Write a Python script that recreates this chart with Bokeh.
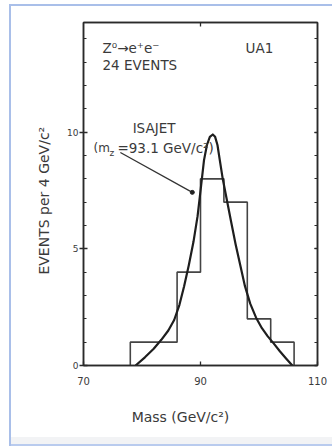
from bokeh.plotting import figure
from bokeh.models import LinearAxis, SingleIntervalTicker, FixedTicker, Label, Range1d
from bokeh.embed import file_html
from bokeh.resources import INLINE

# ---- data ----
bin_edges = [78, 82, 86, 90, 94, 98, 102, 106]
bin_counts = [1, 1, 4, 8, 7, 2, 1]

curve_x = [78.9, 80.5, 82.0, 83.3, 84.5, 85.5, 86.4, 87.2, 88.0, 88.8, 89.5,
           90.1, 90.6, 91.1, 91.6, 92.1, 92.5, 92.9, 93.3, 93.8, 94.5, 95.2,
           96.0, 96.8, 97.6, 98.5, 99.5, 100.5, 101.5, 102.5, 103.6, 104.7, 105.7]
curve_y = [0.0, 0.35, 0.72, 1.1, 1.5, 1.95, 2.6, 3.4, 4.3, 5.3, 6.4,
           7.7, 8.8, 9.45, 9.8, 9.9, 9.8, 9.45, 8.8, 8.0, 7.1, 6.2,
           5.2, 4.3, 3.4, 2.65, 2.05, 1.6, 1.25, 0.95, 0.6, 0.28, 0.0]

arrow_x = [76.3, 88.6]
arrow_y = [9.13, 7.42]

x_ticks = [70, 90, 110]
y_major = 5

C = "#2a2a2a"
TC = "#3a3a3a"
FONT = "DejaVu Sans"

# step outline built from the histogram data
step_x = [bin_edges[0]]
step_y = [0]
for i, c in enumerate(bin_counts):
    step_x += [bin_edges[i], bin_edges[i + 1]]
    step_y += [c, c]
step_x.append(bin_edges[-1])
step_y.append(0)

p = figure(width=332, height=447, x_range=Range1d(70, 110), y_range=Range1d(0, 14.7),
           x_axis_type=None, y_axis_type=None, output_backend="svg",
           toolbar_location=None, min_border_left=83, min_border_right=15,
           min_border_top=22, min_border_bottom=82)
p.background_fill_color = "white"
p.border_fill_color = None
p.outline_line_color = C
p.outline_line_width = 1.5
p.styles = {
    "background-color": "white",
    "box-shadow": ("inset 9px 0 0 0 #ffffff, inset 0 4px 0 0 #ffffff, "
                   "inset 0 -1px 0 0 #ffffff, "
                   "inset 11px 0 0 0 #a9bfe9, inset 0 6px 0 0 #a9bfe9, "
                   "inset 0 -3px 0 0 #b9cbee, inset 0 -10px 0 0 #f2f3f5"),
}


def style(ax):
    ax.axis_line_color = C
    ax.axis_line_width = 1.5
    ax.major_tick_line_color = C
    ax.minor_tick_line_color = C
    ax.major_tick_line_width = 1.3
    ax.minor_tick_line_width = 1.2
    ax.major_label_text_font = FONT
    ax.major_label_text_color = TC
    ax.axis_label_text_font = FONT
    ax.axis_label_text_color = TC
    ax.axis_label_text_font_style = "normal"


left = LinearAxis(ticker=SingleIntervalTicker(interval=y_major, num_minor_ticks=5))
style(left)
left.major_tick_in = 4
left.major_tick_out = 4
left.minor_tick_in = 3
left.minor_tick_out = 0
left.major_label_standoff = 1
left.major_label_text_font_size = "9px"
left.axis_label = "EVENTS per 4 GeV/c²" + "\u00a0" * 3
left.axis_label_text_font_size = "14px"
left.axis_label_standoff = 12
p.add_layout(left, "left")

right = LinearAxis(ticker=SingleIntervalTicker(interval=y_major, num_minor_ticks=5))
style(right)
right.major_tick_in = 3
right.major_tick_out = 0
right.minor_tick_in = 3
right.minor_tick_out = 0
right.major_label_overrides = {0: "", 5: "", 10: ""}
right.major_label_text_font_size = "1px"
right.major_label_standoff = 0
p.add_layout(right, "right")

bottom = LinearAxis(ticker=FixedTicker(ticks=x_ticks))
style(bottom)
bottom.major_tick_in = 4
bottom.major_tick_out = 0
bottom.minor_tick_in = 0
bottom.minor_tick_out = 0
bottom.major_label_standoff = 11
bottom.major_label_text_font_size = "10px"
bottom.axis_label = "Mass (GeV/c²)" + "\u00a0" * 9
bottom.axis_label_text_font_size = "14px"
bottom.axis_label_standoff = 21
p.add_layout(bottom, "below")

top = LinearAxis(ticker=FixedTicker(ticks=[90]))
style(top)
top.major_tick_in = 4
top.major_tick_out = 0
top.minor_tick_in = 0
top.minor_tick_out = 0
top.major_label_overrides = {90: ""}
top.major_label_text_font_size = "1px"
top.major_label_standoff = 0
p.add_layout(top, "above")

# histogram and ISAJET curve
p.line(step_x, step_y, line_color="#444444", line_width=1.6)
p.line(curve_x, curve_y, line_color="#1e1e1e", line_width=2.2, line_join="round")

# annotation pointer
p.line(arrow_x, arrow_y, line_color="#333333", line_width=1.3)
p.scatter(arrow_x[1:], arrow_y[1:], size=4, color="#222222")


def lab(x, y, t, size="13.5px", align="left"):
    p.add_layout(Label(x=x, y=y, text=t, text_font=FONT, text_font_size=size,
                       text_color=TC, text_align=align, text_baseline="alphabetic"))


lab(73.25, 13.59, "Z⁰→e⁺e⁻")
lab(73.25, 12.86, "24 EVENTS")
lab(97.7, 13.59, "UA1")
lab(78.4, 10.16, "ISAJET")
lab(71.7, 9.34, "(m", size="12px")
lab(74.45, 9.12, "z", size="9px")
lab(75.8, 9.34, "=93.1 GeV/c²)")

open("out.html", "w").write(file_html(p, INLINE))
